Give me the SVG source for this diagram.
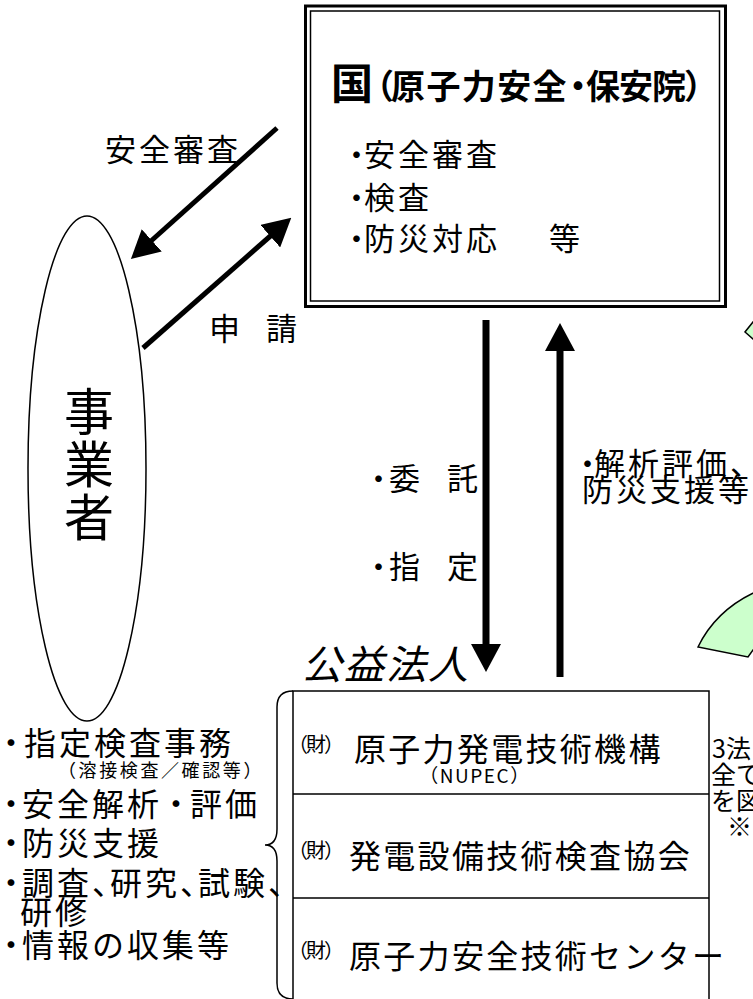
<svg xmlns="http://www.w3.org/2000/svg" width="753" height="999" viewBox="0 0 753 999">
<style>
text{font-family:"Noto Sans CJK JP","Noto Sans CJK SC",sans-serif;fill:#000}
.m{font-size:31px;letter-spacing:3px}
.l{font-size:32px;letter-spacing:3px}
.b{font-size:32px;letter-spacing:2.3px}
.s{font-size:20px;letter-spacing:-2px}
.r{font-size:25px}
.ln{fill:none;stroke:#000}
.green{fill:#CCFFCC;stroke:#000;stroke-width:1.5}
</style>
<defs>
<marker id="ah" markerUnits="userSpaceOnUse" markerWidth="28" markerHeight="30" viewBox="0 0 28 30" refX="1" refY="15" orient="auto"><path d="M0,0 L28,15 L0,30 Z" fill="#000"/></marker>
</defs>
<rect width="753" height="999" fill="#fff"/>

<g id="green-shapes">
<path class="green" d="M761,312 L745,332 L761,346 Z"/>
<path class="green" d="M765,588 Q718,606 698,647 L748,657 L765,633 Z"/>
</g>

<g id="kuni">
<rect x="305.5" y="6" width="420" height="300.5" fill="#fff" stroke="#000" stroke-width="3"/>
<rect x="310.5" y="11" width="409" height="290" fill="none" stroke="#000" stroke-width="1.5"/>
<text y="99" font-weight="bold"><tspan x="331" font-size="42">国</tspan><tspan x="360" font-size="34">（</tspan><tspan x="391" font-size="34" letter-spacing="1.4">原子力安全</tspan><tspan x="561" font-size="34">・</tspan><tspan x="586" font-size="34" letter-spacing="-1">保安院</tspan><tspan x="684" font-size="34">）</tspan></text>
<text class="m" y="166"><tspan x="341">・</tspan><tspan x="364">安全審査</tspan></text>
<text class="m" y="209"><tspan x="341">・</tspan><tspan x="364">検査</tspan></text>
<text class="m" y="250"><tspan x="341">・</tspan><tspan x="364">防災対応 </tspan><tspan x="549">等</tspan></text>
</g>

<g id="jigyosha">
<ellipse cx="87" cy="468.5" rx="59" ry="252.5" fill="none" stroke="#000" stroke-width="1.5"/>
<text font-size="50" text-anchor="middle"><tspan x="89" y="430">事</tspan><tspan x="89" y="483">業</tspan><tspan x="89" y="536">者</tspan></text>
</g>

<g id="koueki">
<text x="302" y="679" font-size="40" font-style="italic" letter-spacing="2">公益法人</text>
<path class="ln" stroke-width="1.5" d="M293,1010 L293,691 L709,691 L709,1010 M293,794 L709,794 M293,898 L709,898"/>
<text y="761"><tspan class="s" x="288" dy="-9">（財）</tspan><tspan class="b" x="354" dy="9">原子力発電技術機構</tspan></text>
<text x="475" y="783" font-size="19" letter-spacing="1.5" text-anchor="middle">（NUPEC）</text>
<text y="868"><tspan class="s" x="288" dy="-10">（財）</tspan><tspan class="b" x="349" dy="10" letter-spacing="2.2">発電設備技術検査協会</tspan></text>
<text y="968"><tspan class="s" x="288" dy="-10">（財）</tspan><tspan class="b" x="349" dy="10" font-size="31" letter-spacing="1.5">原子力安全技術センター</tspan></text>
</g>

<g id="brace">
<path class="ln" stroke-width="1.5" d="M293,691 Q277,691 277,707 L277,829 Q277,845 265,845 Q277,845 277,861 L277,983 Q277,999 293,999"/>
</g>

<g id="work-list">
<text class="l" y="755"><tspan x="-5">・</tspan><tspan x="24">指定検査事務</tspan></text>
<text x="58" y="777" font-size="18" letter-spacing="2.6">（溶接検査／確認等）</text>
<text class="l" y="816"><tspan x="-5">・</tspan><tspan x="22">安全解析</tspan><tspan x="160">・</tspan><tspan x="190">評価</tspan></text>
<text class="l" y="855"><tspan x="-5">・</tspan><tspan x="22">防災支援</tspan></text>
<text class="l" y="895"><tspan x="-5">・</tspan><tspan x="22">調査</tspan><tspan x="92">、</tspan><tspan x="110">研究</tspan><tspan x="180">、</tspan><tspan x="198">試験</tspan><tspan x="268">、</tspan></text>
<text class="l" x="20" y="924">研修</text>
<text class="l" y="957"><tspan x="-5">・</tspan><tspan x="22">情報の収集等</tspan></text>
</g>

<g id="right-note">
<text class="r" x="712" y="758">3法</text>
<text class="r" x="711" y="784">全て</text>
<text class="r" x="711" y="810">を図</text>
<text class="r" x="727" y="836">※</text>
</g>

<g id="connectors">
<line class="ln" stroke-width="5" x1="277" y1="128" x2="151" y2="241" marker-end="url(#ah)"/>
<line class="ln" stroke-width="5" x1="143" y1="348" x2="271" y2="235.5" marker-end="url(#ah)"/>
<line class="ln" stroke-width="7" x1="486" y1="320" x2="486" y2="645" marker-end="url(#ah)"/>
<line class="ln" stroke-width="7" x1="560" y1="677" x2="560" y2="350" marker-end="url(#ah)"/>
</g>

<g id="labels">
<text class="m" x="105" y="161" letter-spacing="2.5">安全審査</text>
<text class="m" x="209" y="340">申 <tspan x="266">請</tspan></text>
<text class="m" y="490"><tspan x="363">・</tspan><tspan x="389">委 </tspan><tspan x="447">託</tspan></text>
<text class="m" y="578"><tspan x="363">・</tspan><tspan x="389">指 </tspan><tspan x="447">定</tspan></text>
<text class="m" y="475"><tspan x="572">・</tspan><tspan x="594">解析評価、</tspan></text>
<text class="m" x="582" y="501">防災支援等</text>
</g>
</svg>
